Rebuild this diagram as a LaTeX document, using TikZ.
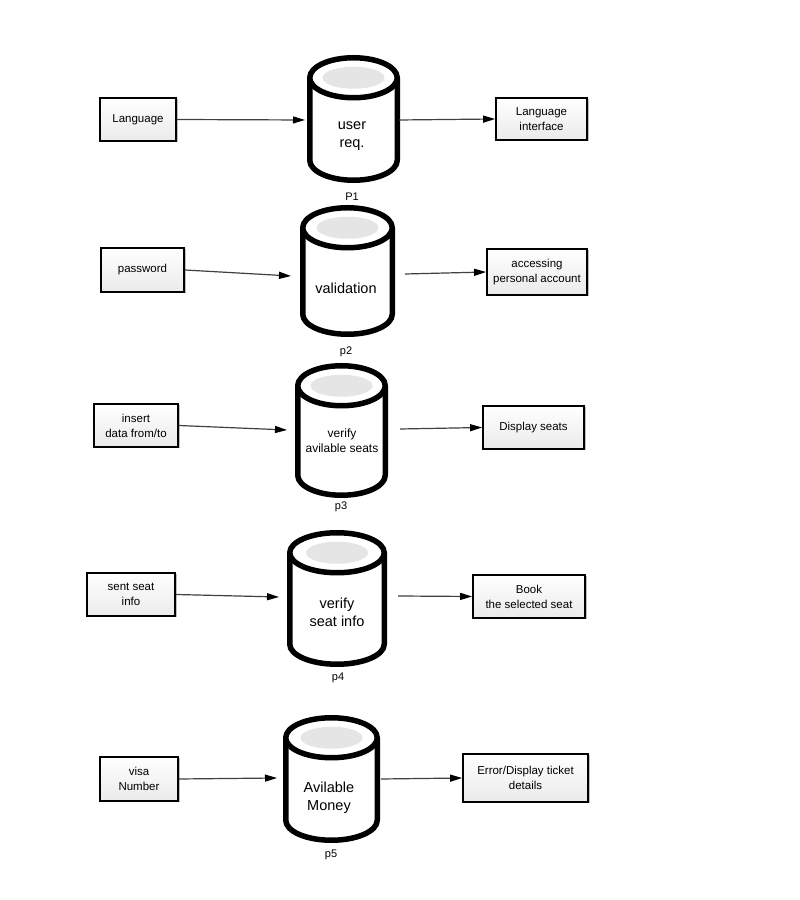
\documentclass[tikz,border=0pt]{standalone}
\usepackage{fontspec}
\setmainfont{Liberation Sans}
\usetikzlibrary{arrows.meta,shadows}
\tikzset{
  cylline/.style={draw=black, line width=5.5pt, fill=white, line join=round},
  box/.style={draw=black, line width=1.8pt, top color=white, bottom color=black!8,
    align=center, inner sep=2pt, font=\fontsize{11.5}{15}\selectfont,
    drop shadow={shadow xshift=1.5pt, shadow yshift=-1.5pt, opacity=0.25, fill=black}},
  cyltext/.style={align=center, font=\fontsize{14.5}{18}\selectfont},
  plabel/.style={font=\fontsize{11}{13}\selectfont},
  arr/.style={draw=black!75, line width=1.2pt, -{Triangle[length=12pt,width=7pt,color=black]}}
}
\newcommand\mkcyl[5]{%
  \pgfmathsetmacro\cx{#2}%
  \pgfmathsetmacro\rx{#5/2-2.75}%
  \pgfmathsetmacro\tc{900-(#3+2.75+20)}%
  \pgfmathsetmacro\bc{900-(#4-2.75-20)}%
  \pgfmathsetmacro\cy{900-(#3+#4)/2}%
  \pgfmathsetmacro\hh{#4-#3}%
  \node[minimum width=#5pt, minimum height=\hh pt, inner sep=0pt, outer sep=0pt] (#1) at (\cx,\cy) {};
  \draw[cylline] (\cx-\rx,\tc) -- (\cx-\rx,\bc) arc[start angle=180,end angle=360,x radius=\rx pt,y radius=20pt] -- (\cx+\rx,\tc);
  \draw[cylline] (\cx,\tc) ellipse[x radius=\rx pt, y radius=20pt];
  \fill[black!10] (\cx,\tc) ellipse[x radius=31pt, y radius=11pt];
}
\begin{document}
\begin{tikzpicture}[x=1pt,y=1pt]
\fill[white] (0,0) rectangle (800,900);
\useasboundingbox (0,0) rectangle (800,900);

% cylinders
\mkcyl{c1}{353.5}{55}{183}{93}
\mkcyl{c2}{347.5}{205}{337}{95}
\mkcyl{c3}{341.5}{363}{498}{93}
\mkcyl{c4}{337}{530}{667}{100}
\mkcyl{c5}{331.5}{715}{843}{97}

\node[cyltext] (t1) at (352,764) {user\\req.};
\node[cyltext] (t2) at (346,612) {validation};
\node[cyltext, font=\fontsize{12}{15}\selectfont] (t3) at (342,459) {verify\\avilable seats};
\node[cyltext] (t4) at (337,288) {verify\\seat info};
\node[cyltext] (t5) at (329,102) {Avilable\\Money};

\node[plabel] (p1) at (352,703) {P1};
\node[plabel] (p2) at (346,548) {p2};
\node[plabel] (p3) at (341,393) {p3};
\node[plabel] (p4) at (338,222) {p4};
\node[plabel] (p5) at (331,45) {p5};

% boxes
\node[box, minimum width=76pt, minimum height=43pt] (lang) at (138,780.5) {Language};
\node[box, minimum width=91pt, minimum height=42pt] (langif) at (541.5,781) {Language\\interface};
\node[box, minimum width=83pt, minimum height=44pt] (pw) at (142.5,630) {password};
\node[box, minimum width=100pt, minimum height=46pt] (acc) at (537,628) {accessing\\personal account};
\node[box, minimum width=84pt, minimum height=43pt] (ins) at (136,474.5) {insert\\data from/to};
\node[box, minimum width=101pt, minimum height=43pt] (disp) at (533.5,472.5) {Display seats};
\node[box, minimum width=88pt, minimum height=43pt] (sent) at (131,305.5) {sent seat\\info};
\node[box, minimum width=112pt, minimum height=43pt] (book) at (529,303.5) {Book\\the selected seat};
\node[box, minimum width=78pt, minimum height=44pt] (visa) at (139,121) {visa\\Number};
\node[box, minimum width=125pt, minimum height=48pt] (err) at (525.5,122) {Error/Display ticket\\details};

% connector end points near the cylinders
\coordinate (c1in) at (305,780);
\coordinate (c1out) at (399,780);
\coordinate (c2in) at (291,624);
\coordinate (c2out) at (405,626);
\coordinate (c3in) at (287,470);
\coordinate (c3out) at (400,471);
\coordinate (c4in) at (279,303);
\coordinate (c4out) at (398,304);
\coordinate (c5in) at (277,122);
\coordinate (c5out) at (381,121);

\draw[arr] (lang.east) -- (c1in);
\draw[arr] (c1out) -- (langif.west);
\draw[arr] (pw.east) -- (c2in);
\draw[arr] (c2out) -- (acc.west);
\draw[arr] (ins.east) -- (c3in);
\draw[arr] (c3out) -- (disp.west);
\draw[arr] (sent.east) -- (c4in);
\draw[arr] (c4out) -- (book.west);
\draw[arr] (visa.east) -- (c5in);
\draw[arr] (c5out) -- (err.west);
\end{tikzpicture}
\end{document}
